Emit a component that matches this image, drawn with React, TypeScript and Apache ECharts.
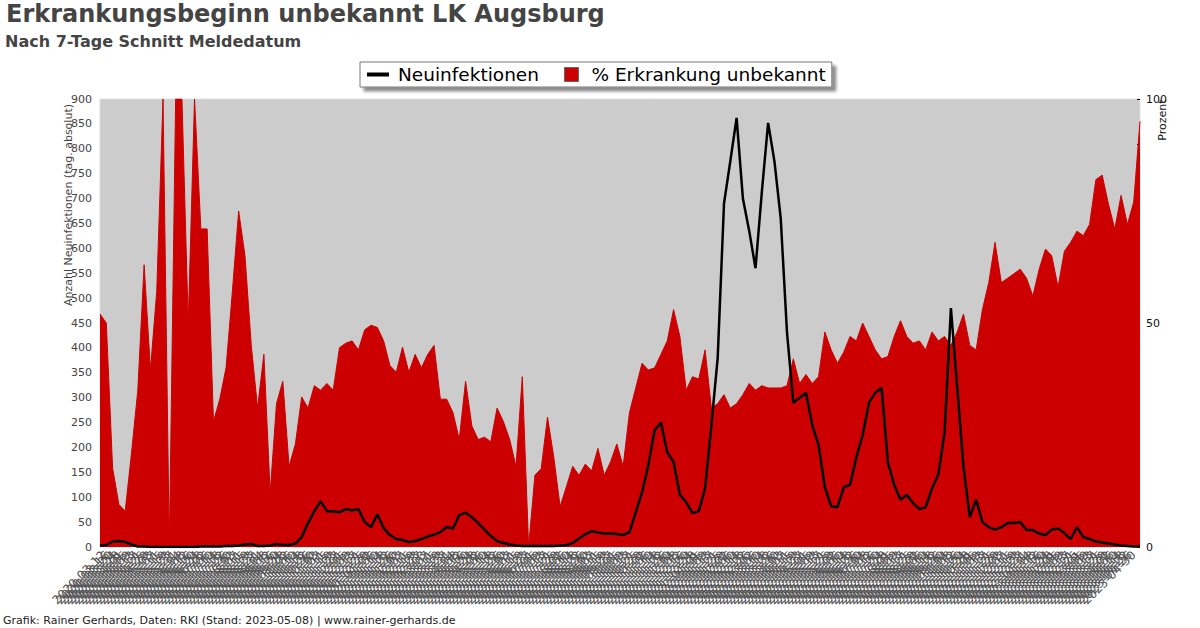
import React, { useEffect, useRef } from "react";
import * as echarts from "echarts";

// Weekly sample dates (Meldedatum), first sample and spacing
const START_DATE = "2020-03-08";
const STEP_DAYS = 7;
// Day labels under the axis: one every LABEL_EVERY days
const LABEL_EVERY = 4;

// % Erkrankungsbeginn unbekannt (right axis, percent)
const pctUnknown: number[] = [
  52, 50, 17.6, 9.5, 8, 21, 35, 63, 39.5, 57,
  100, 0, 100, 100, 50, 100, 71, 71, 28, 33,
  40, 57, 75, 65, 45, 31, 43, 12, 32, 37,
  18, 23, 33.5, 31, 36, 35, 36.5, 35, 44.5, 45.5,
  46, 44, 48.5, 49.5, 49, 46, 40.5, 39, 44.6, 39,
  43, 40, 43, 45, 33, 33, 30, 24, 37, 27,
  24, 24.5, 23.5, 31, 28, 24, 18, 38, 0, 16,
  17.5, 29, 20, 9, 13.5, 18, 16, 18.5, 17, 22,
  16, 19, 23, 18, 30, 35.5, 41, 39.5, 40, 43,
  46, 53, 47, 35, 38, 37.5, 44, 31, 32, 34,
  31, 32, 34, 36.5, 35, 36, 35.5, 35.5, 35.5, 36,
  42, 36.5, 38.5, 36.5, 38, 48, 44, 41, 43.5, 47,
  46, 50, 47, 44, 42, 42.5, 47, 50.5, 47, 45.5,
  46, 44, 48, 46, 47, 45, 48, 52, 45, 44,
  53, 59, 68, 59, 60, 61, 62, 60, 56, 62,
  66.5, 65, 58, 66, 68, 70.5, 69.5, 72, 82, 83,
  76.5, 71, 78.5, 72, 77, 95,
];

// Neuinfektionen (left axis, 7-day average, absolute per day)
const newInfections: number[] = [
  3, 4, 11, 12, 10, 5, 1, 1, 0, 0,
  0, 0, 0, 0, 0, 0, 1, 1, 1, 1,
  2, 2, 3, 5, 6, 2, 2, 3, 6, 4,
  4, 7, 20, 48, 72, 92, 72, 72, 70, 76,
  74, 76, 50, 40, 66, 38, 24, 16, 14, 10,
  12, 16, 21, 25, 30, 40, 37, 64, 69, 60,
  48, 35, 22, 12, 8, 5, 3, 2, 2, 2,
  2, 2, 2, 3, 4, 8, 17, 26, 32, 29,
  27, 27, 26, 24, 30, 70, 110, 165, 235, 250,
  190, 171, 105, 90, 68, 72, 118, 245, 380, 690,
  775, 862, 700, 635, 560, 713, 852, 775, 660, 430,
  290, 300, 310, 245, 205, 120, 82, 80, 120, 125,
  180, 225, 290, 310, 320, 170, 125, 95, 105, 88,
  76, 80, 118, 145, 231, 480, 320, 160, 60, 95,
  50, 40, 35, 40, 48, 48, 50, 34, 34, 27,
  24, 35, 37, 28, 16, 40, 20, 16, 11, 9,
  7, 5, 3, 2, 1, 1,
];

function buildDates(start: string, step: number, n: number): string[] {
  const out: string[] = [];
  const d0 = new Date(start + "T00:00:00Z");
  for (let i = 0; i < n; i++) {
    const d = new Date(d0.getTime() + i * step * 86400000);
    out.push(d.toISOString().slice(0, 10));
  }
  return out;
}

const weeks = buildDates(START_DATE, STEP_DAYS, pctUnknown.length);
const days = buildDates(START_DATE, 1, (pctUnknown.length - 1) * STEP_DAYS + 1);

const FONT = "DejaVu Sans";

export default function App() {
  const ref = useRef<HTMLDivElement>(null);
  useEffect(() => {
    if (!ref.current) return;
    const chart = echarts.init(ref.current, undefined, { renderer: "svg" });
    chart.setOption({
      animation: false,
      backgroundColor: "#ffffff",
      textStyle: { fontFamily: FONT },
      title: [
        {
          text: "Erkrankungsbeginn unbekannt LK Augsburg",
          left: 6,
          top: 2,
          padding: 0,
          textStyle: { fontSize: 24, fontWeight: "bold", color: "#444444", fontFamily: FONT },
        },
        {
          text: "Nach 7-Tage Schnitt Meldedatum",
          left: 5,
          top: 33,
          padding: 0,
          textStyle: { fontSize: 16, fontWeight: "bold", color: "#444444", fontFamily: FONT },
        },
      ],
      legend: {
        left: 360,
        top: 62,
        orient: "horizontal",
        backgroundColor: "#ffffff",
        borderColor: "#777777",
        borderWidth: 1,
        borderRadius: 0,
        padding: [3, 6, 3, 7],
        shadowColor: "rgba(0,0,0,0.45)",
        shadowBlur: 3,
        shadowOffsetX: 4,
        shadowOffsetY: 4,
        itemGap: 25,
        itemWidth: 22,
        itemHeight: 14,
        textStyle: { fontSize: 18.5, color: "#000000", fontFamily: FONT, padding: [0, 0, 0, 4] },
        data: [
          { name: "Neuinfektionen", icon: "path://M0,0L22,0L22,4L0,4Z" },
          {
            name: "% Erkrankung unbekannt",
            icon: "path://M0,0L14,0L14,14L0,14Z",
            itemStyle: { borderColor: "#666666", borderWidth: 1 },
          },
        ],
      },
      grid: {
        left: 100,
        right: 60,
        top: 99,
        bottom: 81,
        show: true,
        backgroundColor: "#cccccc",
        borderColor: "#dddddd",
        borderWidth: 1,
      },
      xAxis: [
        {
          type: "category",
          data: weeks,
          boundaryGap: false,
          axisLine: { show: false },
          axisTick: { show: false },
          splitLine: { show: false },
          axisLabel: { show: false },
        },
        {
          type: "category",
          data: days,
          boundaryGap: false,
          position: "bottom",
          axisLine: { show: false },
          axisTick: { show: false },
          splitLine: { show: false },
          axisLabel: {
            rotate: 45,
            interval: LABEL_EVERY - 1,
            fontSize: 12,
            color: "#555555",
            margin: 6,
            fontFamily: FONT,
          },
        },
      ],
      yAxis: [
        {
          type: "value",
          min: 0,
          max: 900,
          interval: 50,
          position: "left",
          splitLine: { show: false },
          axisLine: { show: false },
          axisTick: { show: false },
          axisLabel: { color: "#444444", fontSize: 11, margin: 8, fontFamily: FONT },
        },
        {
          type: "value",
          min: 0,
          max: 100,
          interval: 10,
          position: "right",
          splitLine: { show: false },
          axisLine: { show: false },
          axisTick: { show: true, length: 3, inside: true, lineStyle: { color: "#000000" } },
          axisLabel: {
            color: "#111111",
            fontSize: 11,
            margin: 6,
            fontFamily: FONT,
            formatter: (v: number) => (v % 50 === 0 ? String(v) : ""),
          },
        },
      ],
      graphic: [
        {
          type: "text",
          x: 68,
          y: 205,
          rotation: Math.PI / 2,
          style: {
            text: "Anzahl Neuinfektionen (tag. absolut)",
            fontSize: 11,
            fill: "#444444",
            fontFamily: FONT,
            align: "center",
            verticalAlign: "middle",
          },
        },
        {
          type: "text",
          x: 1162,
          y: 120,
          rotation: Math.PI / 2,
          style: {
            text: "Prozent",
            fontSize: 11,
            fill: "#111111",
            fontFamily: FONT,
            align: "center",
            verticalAlign: "middle",
          },
        },
        {
          type: "text",
          left: 3,
          top: 615,
          style: {
            text: "Grafik: Rainer Gerhards, Daten: RKI (Stand: 2023-05-08) | www.rainer-gerhards.de",
            fontSize: 11,
            fill: "#222222",
            fontFamily: FONT,
          },
        },
      ],
      series: [
        {
          name: "% Erkrankung unbekannt",
          type: "line",
          xAxisIndex: 0,
          yAxisIndex: 1,
          data: pctUnknown,
          symbol: "none",
          color: "#cc0000",
          lineStyle: { width: 1, color: "#cc0000" },
          areaStyle: { color: "#cc0000", opacity: 1 },
          z: 2,
        },
        {
          name: "Neuinfektionen",
          type: "line",
          xAxisIndex: 0,
          yAxisIndex: 0,
          data: newInfections,
          symbol: "none",
          color: "#000000",
          lineStyle: { width: 2.5, color: "#000000" },
          z: 3,
        },
      ],
    });
    return () => chart.dispose();
  }, []);
  return <div ref={ref} style={{ width: 1200, height: 628, position: "absolute", left: 0, top: 0 }} />;
}
